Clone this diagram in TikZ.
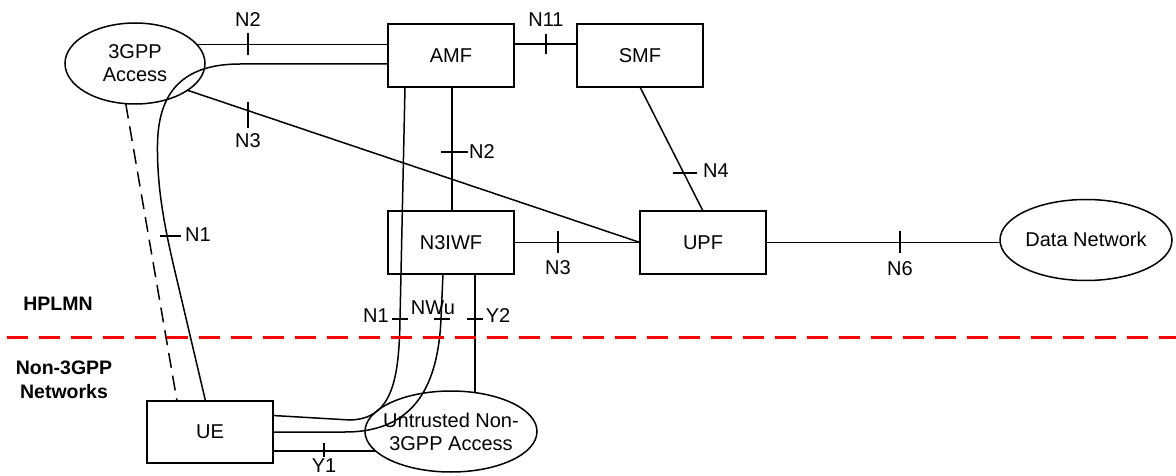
\documentclass[tikz,border=0pt]{standalone}
\usepackage{fontspec}
\setmainfont{Liberation Sans}
\usetikzlibrary{calc}
\usetikzlibrary{shapes.geometric}
\tikzset{
  x=1pt,y=-1pt,
  every node/.style={font=\fontsize{20}{24}\selectfont},
  conn/.style={line width=1.5pt,black},
  tick/.style={line width=1.3pt,black},
  box/.style={draw,line width=1.5pt,minimum width=126pt,minimum height=63pt,inner sep=0pt,outer sep=0pt,align=center},
  oval/.style={draw,line width=1.5pt,ellipse,inner xsep=-16pt,inner ysep=-6pt,outer sep=0pt,align=center},
  lab/.style={inner sep=0pt,outer sep=0pt},
  bold/.style={inner sep=0pt,outer sep=0pt,align=center,font=\fontsize{19.5}{24}\selectfont\bfseries},
}
\begin{document}
\begin{tikzpicture}
\useasboundingbox (0,0) rectangle (1176,476);
\clip (0,0) rectangle (1176,476);
\node[oval,minimum width=140pt,minimum height=81pt] (acc) at (135,63.5) {3GPP\\[-1pt]Access};
\node[box] (amf) at (451,55.5) {AMF};
\node[box] (smf) at (640,55.5) {SMF};
\node[box] (n3) at (451,242.5) {N3IWF};
\node[box] (upf) at (703,242.5) {UPF};
\node[oval,minimum width=172pt,minimum height=81pt] (dn) at (1086,240) {\raisebox{2pt}{Data Network}};
\node[box,minimum height=62pt] (ue) at (210,432) {UE};
\node[oval,minimum width=172pt,minimum height=81pt] (un) at (451,431.5) {Untrusted Non-\\[-1pt]3GPP Access};
% connectors
\draw[conn] (acc.17) -- (acc.17 -| amf.west);
\draw[conn] (amf.east |- 0,44) -- (smf.west |- 0,44);
\draw[conn] (acc.-27) -- (upf.west);
\draw[conn,dash pattern=on 15pt off 8pt] (acc.-103) -- ($(ue.north west)+(30,0)$);
\draw[conn] ($(ue.north west)+(58.5,0)$) -- (177,280) .. controls (165,230) and (157,190) .. (157.5,145) .. controls (158,95) and (180,64) .. (240,64) -- (amf.west |- 0,64);
\draw[conn] ($(amf.south west)+(17,0)$) -- (400,320) .. controls (399,380) and (392,419) .. (350,420) -- ($(ue.north east)+(0,14.5)$);
\draw[conn] ($(n3.south west)+(55,0)$) -- (441,319) .. controls (438,385) and (415,432) .. (345,432) -- (ue.east |- 0,432);
\draw[conn] ($(n3.south west)+(87,0)$) -- ++(0,119);
\draw[conn] ($(amf.south west)+(64,0)$) -- ($(n3.north west)+(64,0)$);
\draw[conn] (n3.east) -- (upf.west);
\draw[conn] (upf.east) -- (dn.west |- upf.east);
\draw[conn] (640,87) -- (703,211);
\draw[conn] ($(ue.south east)+(0,-12)$) -- (376,451);
\draw[line width=3pt,red,dash pattern=on 21pt off 11pt] (7,337) -- (1176,337);
% ticks
\draw[tick] (248,33) -- (248,55);
\draw[tick] (248,102) -- (248,128);
\draw[tick] (546,34) -- (546,54);
\draw[tick] (441,152) -- (468,152);
\draw[tick] (673,173) -- (697,173);
\draw[tick] (558,231) -- (558,253);
\draw[tick] (900,231) -- (900,253);
\draw[tick] (160,236) -- (181,236);
\draw[tick] (392,319) -- (408,319);
\draw[tick] (434,319) -- (450,319);
\draw[tick] (467,319) -- (483,319);
\draw[tick] (324,443) -- (324,457);
% labels
\node[lab] (l1) at (248,20) {N2};
\node[lab] (l2) at (248,141) {N3};
\node[lab] (l3) at (546,20) {N11};
\node[lab] (l4) at (482,152) {N2};
\node[lab] (l5) at (716,171) {N4};
\node[lab] (l6) at (558,268) {N3};
\node[lab] (l7) at (900,269) {N6};
\node[lab] (l8) at (198,235) {N1};
\node[lab] (l9) at (376,316) {N1};
\node[lab] (l10) at (433,308) {NWu};
\node[lab] (l11) at (498,316) {Y2};
\node[lab] (l12) at (324,466) {Y1};
\node[bold] (h) at (58,304) {HPLMN};
\node[bold] (nn) at (64,380) {Non-3GPP\\Networks};
\end{tikzpicture}
\end{document}
